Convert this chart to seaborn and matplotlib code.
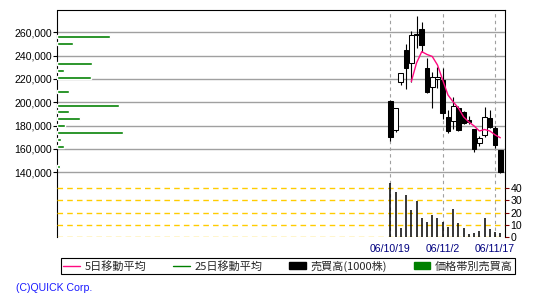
import matplotlib
matplotlib.use("Agg")
import matplotlib.pyplot as plt
import seaborn as sns
import numpy as np
from matplotlib.lines import Line2D
from matplotlib.patches import Patch
from matplotlib.ticker import FuncFormatter

# ---------------- data ----------------
dates = ['06/10/19', '06/10/20', '06/10/23', '06/10/24', '06/10/25', '06/10/26',
         '06/10/27', '06/10/30', '06/10/31', '06/11/1', '06/11/2', '06/11/6',
         '06/11/7', '06/11/8', '06/11/9', '06/11/10', '06/11/13', '06/11/14',
         '06/11/15', '06/11/16', '06/11/17', '06/11/20']
opens = [201400, 176000, 217100, 244800, 233400, 257500, 262800, 229100, 212900, 219700,
         219100, 187400, 184000, 194900, 191400, 184500, 176900, 164900, 172000, 186300,
         177700, 159100]
highs = [201600, 195000, 225300, 250000, 261500, 274000, 268800, 237700, 226000, 230300,
         229100, 193000, 204500, 197000, 192500, 188000, 177000, 171100, 196200, 193800,
         179700, 159200]
lows = [167100, 174300, 214800, 211100, 217000, 246500, 243400, 208000, 195500, 212000,
        185700, 174000, 176900, 175500, 181000, 181000, 157700, 162500, 170000, 178000,
        161100, 139100]
closes = [170500, 194900, 225100, 229700, 257700, 258300, 248700, 208600, 221400, 221400,
          190600, 175100, 196800, 176300, 182000, 183500, 159700, 169100, 187700, 178800,
          163400, 140500]
# 5-day moving average (starts with the 5th session)
ma5 = [217700, 233700, 243400, 241000, 239300, 232000, 219100, 206300, 200300, 195100,
       187400, 183100, 179700, 175400, 176700, 175400, 172100, 169600]
# daily volume, 1000 shares
volume = [44.4, 37.0, 7.4, 34.5, 22.3, 29.5, 15.7, 12.1, 17.9, 15.7, 12.1, 8.0, 23.1,
          11.6, 7.4, 2.2, 3.0, 4.7, 15.5, 6.3, 3.9, 3.0]
# volume by price band
band_prices = [256700, 250600, 233500, 227400, 221400, 209500, 197400, 192300, 186400,
               180300, 174300, 168400, 162300, 145100]
band_volume = [53.0, 15.7, 35.0, 6.7, 33.7, 11.7, 61.7, 11.7, 22.7, 7.7, 65.7, 3.7, 6.7, 2.7]

tick_dates = ['06/10/19', '06/11/2', '06/11/17']
price_ticks = [140000, 160000, 180000, 200000, 220000, 240000, 260000]
volume_ticks = [0, 10, 20, 30, 40]
legend_labels = ['5日移動平均', '25日移動平均', '売買高(1000株)', '価格帯別売買高']

# ---------------- style ----------------
sns.set_theme(style="white")
plt.rcParams['font.family'] = ['Liberation Sans', 'Noto Sans CJK JP', 'DejaVu Sans']

PINK = '#ff0a80'
GREEN = '#008000'
GRID = '#a0a0a0'
YEL = '#ffcc00'

fig = plt.figure(figsize=(5.5, 3.0), dpi=100)
fig.patch.set_facecolor('white')
ax = fig.add_axes([57.5 / 550, 1 - 237 / 300, 447.8 / 550, 227 / 300])
ax.set_facecolor('white')

pos = np.arange(len(dates))
o = np.array(opens, float)
c = np.array(closes, float)

# candles
ax.vlines(pos, lows, highs, color='black', lw=0.8, zorder=3)
body_bottom = np.minimum(o, c)
body_h = np.maximum(np.abs(c - o), 700)
body_col = ['white' if cc >= oo else 'black' for oo, cc in zip(o, c)]
ax.bar(pos, body_h, bottom=body_bottom, width=0.9, color=body_col,
       edgecolor='black', linewidth=0.75, zorder=4)

# 5-day MA
sns.lineplot(x=pos[4:], y=ma5, color=PINK, lw=1.0, ax=ax, zorder=5)

# volume panel
vax = ax.twinx()
vax.vlines(pos, 0, volume, color='black', lw=1.1, zorder=3)
vax.set_ylim(-0.25, 187.4)
vax.set_yticks(volume_ticks)
vax.yaxis.grid(True, color=YEL, linestyle=(0, (4, 3)), lw=1.0)
vax.set_axisbelow(True)
for s in vax.spines.values():
    s.set_visible(False)
vax.tick_params(axis='y', right=True, left=False, length=3, width=0.8,
                color='#800000', pad=0.6, labelsize=7.6, labelcolor='black')

# price-band volume bars
bax = ax.twiny()
bax.barh(band_prices, band_volume, height=2800, color=GREEN, zorder=6)
bax.set_xlim(0, 448)
bax.set_xticks([])
for s in bax.spines.values():
    s.set_visible(False)
bax.tick_params(top=False, labeltop=False)

# main axis formatting
ax.set_ylim(84540, 279110)
ax.set_xlim(-63.54, 21.95)
ax.set_yticks(price_ticks)
ax.yaxis.set_major_formatter(FuncFormatter(lambda v, p: f'{int(v):,}'))
ax.set_xticks([dates.index(d) for d in tick_dates])
ax.set_xticklabels(tick_dates)
ax.yaxis.grid(True, color=GRID, lw=1.0, linestyle='-')
ax.xaxis.grid(True, color=GRID, lw=0.8, linestyle=(0, (3, 3)))
ax.set_axisbelow(True)
ax.set_xlabel('')
ax.set_ylabel('')
for side in ['top', 'left', 'right']:
    ax.spines[side].set_visible(True)
    ax.spines[side].set_color('black')
    ax.spines[side].set_linewidth(0.8)
ax.spines['bottom'].set_visible(False)
ax.tick_params(axis='y', left=True, length=3, width=0.8, color='black', pad=0.8,
               labelsize=7.6, labelcolor='black')
ax.tick_params(axis='x', bottom=False, length=0, pad=5, labelsize=7.6,
               labelcolor='#000080')

# legend
handles = [Line2D([], [], color=PINK, lw=1.0),
           Line2D([], [], color=GREEN, lw=1.0),
           Patch(facecolor='black', edgecolor='black'),
           Patch(facecolor=GREEN, edgecolor=GREEN)]
leg = fig.legend(handles, legend_labels, loc='center',
                 bbox_to_anchor=(61 / 550, 25 / 300, 454 / 550, 18 / 300),
                 mode='expand', ncol=4, frameon=True, fancybox=False,
                 edgecolor='black', framealpha=1, borderpad=0.2,
                 handlelength=1.5, handletextpad=0.4, borderaxespad=0,
                 prop={'family': ['Noto Sans CJK JP', 'DejaVu Sans'], 'size': 8.0})
leg.get_frame().set_linewidth(0.8)

fig.text(16 / 550, 1 - 287.8 / 300, '(C)QUICK Corp.', color='#1a1aff',
         fontsize=7.6, va='center', ha='left')

fig.savefig('out.png', dpi=100, facecolor='white')
